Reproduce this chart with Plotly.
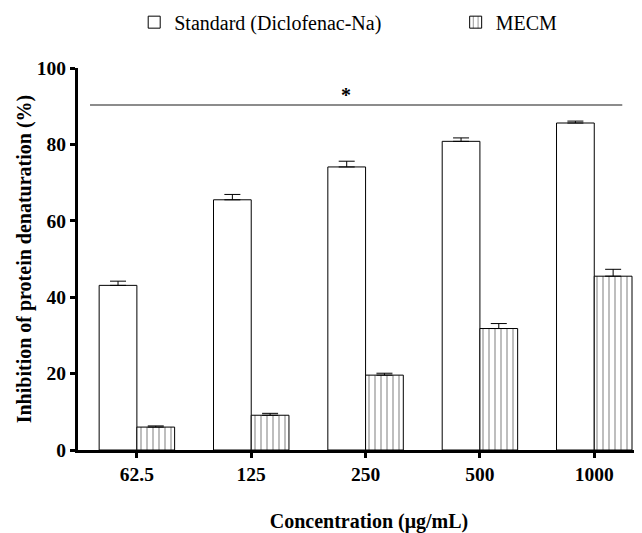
import plotly.graph_objects as go

categories = ["62.5", "125", "250", "500", "1000"]
standard = [43.1, 65.5, 74.1, 80.8, 85.6]
standard_err = [1.1, 1.4, 1.5, 0.9, 0.5]
mecm = [6.0, 9.1, 19.6, 31.8, 45.5]
mecm_err = [0.3, 0.5, 0.5, 1.3, 1.8]
y_ticks = [0, 20, 40, 60, 80, 100]
sig_y = 90.3

FONT = "Liberation Serif"

fig = go.Figure()
fig.add_trace(go.Bar(
    name="Standard (Diclofenac-Na)", x=categories, y=standard, legend="legend",
    marker=dict(color="white", line=dict(color="black", width=1)),
    error_y=dict(type="data", array=standard_err, arrayminus=[0]*5, symmetric=False,
                 color="black", thickness=1, width=8),
))
fig.add_trace(go.Bar(
    name="MECM", x=categories, y=mecm, legend="legend2",
    marker=dict(color="white", line=dict(color="black", width=1),
                pattern=dict(shape="|", size=6, solidity=0.17, fgcolor="black", bgcolor="white")),
    error_y=dict(type="data", array=mecm_err, arrayminus=[0]*5, symmetric=False,
                 color="black", thickness=1, width=8),
))

fig.add_shape(type="line", xref="x", yref="y", x0=-0.41, x1=4.245, y0=sig_y, y1=sig_y,
              line=dict(color="#666666", width=1.5))
fig.add_annotation(x=1.83, y=sig_y, xref="x", yref="y", text="<b>*</b>", showarrow=False,
                   yanchor="bottom", yshift=-3, font=dict(family=FONT, size=20, color="black"))

legend_common = dict(orientation="h", y=1.12, xanchor="left", yanchor="middle",
                     font=dict(family=FONT, size=20, color="black"), bgcolor="rgba(0,0,0,0)")

fig.update_layout(
    width=634, height=525,
    margin=dict(l=70, r=2, t=60, b=83, autoexpand=False),
    paper_bgcolor="white", plot_bgcolor="white",
    barmode="group", bargap=0.34, bargroupgap=0,
    font=dict(family=FONT, color="black"),
    showlegend=True,
    legend=dict(x=0.1, **legend_common),
    legend2=dict(x=0.672, **legend_common),
    xaxis=dict(type="category", range=[-0.515, 4.4], showline=True, linecolor="black", linewidth=3,
               ticks="outside", ticklen=5, tickwidth=3, tickcolor="black", showgrid=False,
               tickvals=categories, ticktext=["<b>%s</b>" % c for c in categories],
               tickfont=dict(family=FONT, size=19.5, color="black"), zeroline=False, automargin=False,
               title=dict(text="&nbsp;&nbsp;&nbsp;&nbsp;<b>Concentration (μg/mL)</b>",
                          font=dict(family=FONT, size=20), standoff=36)),
    yaxis=dict(range=[0, 100], tickvals=y_ticks, ticktext=["<b>%d</b>" % v for v in y_ticks],
               showline=True, linecolor="black",
               linewidth=3, ticks="outside", ticklen=5, tickwidth=3, tickcolor="black", showgrid=False,
               zeroline=False, tickfont=dict(family=FONT, size=19.5, color="black"), automargin=False,
               title=dict(text="<b>Inhibition of protein denaturation (%)</b>", font=dict(family=FONT, size=20), standoff=0)),
)

fig.write_html("out.html")
